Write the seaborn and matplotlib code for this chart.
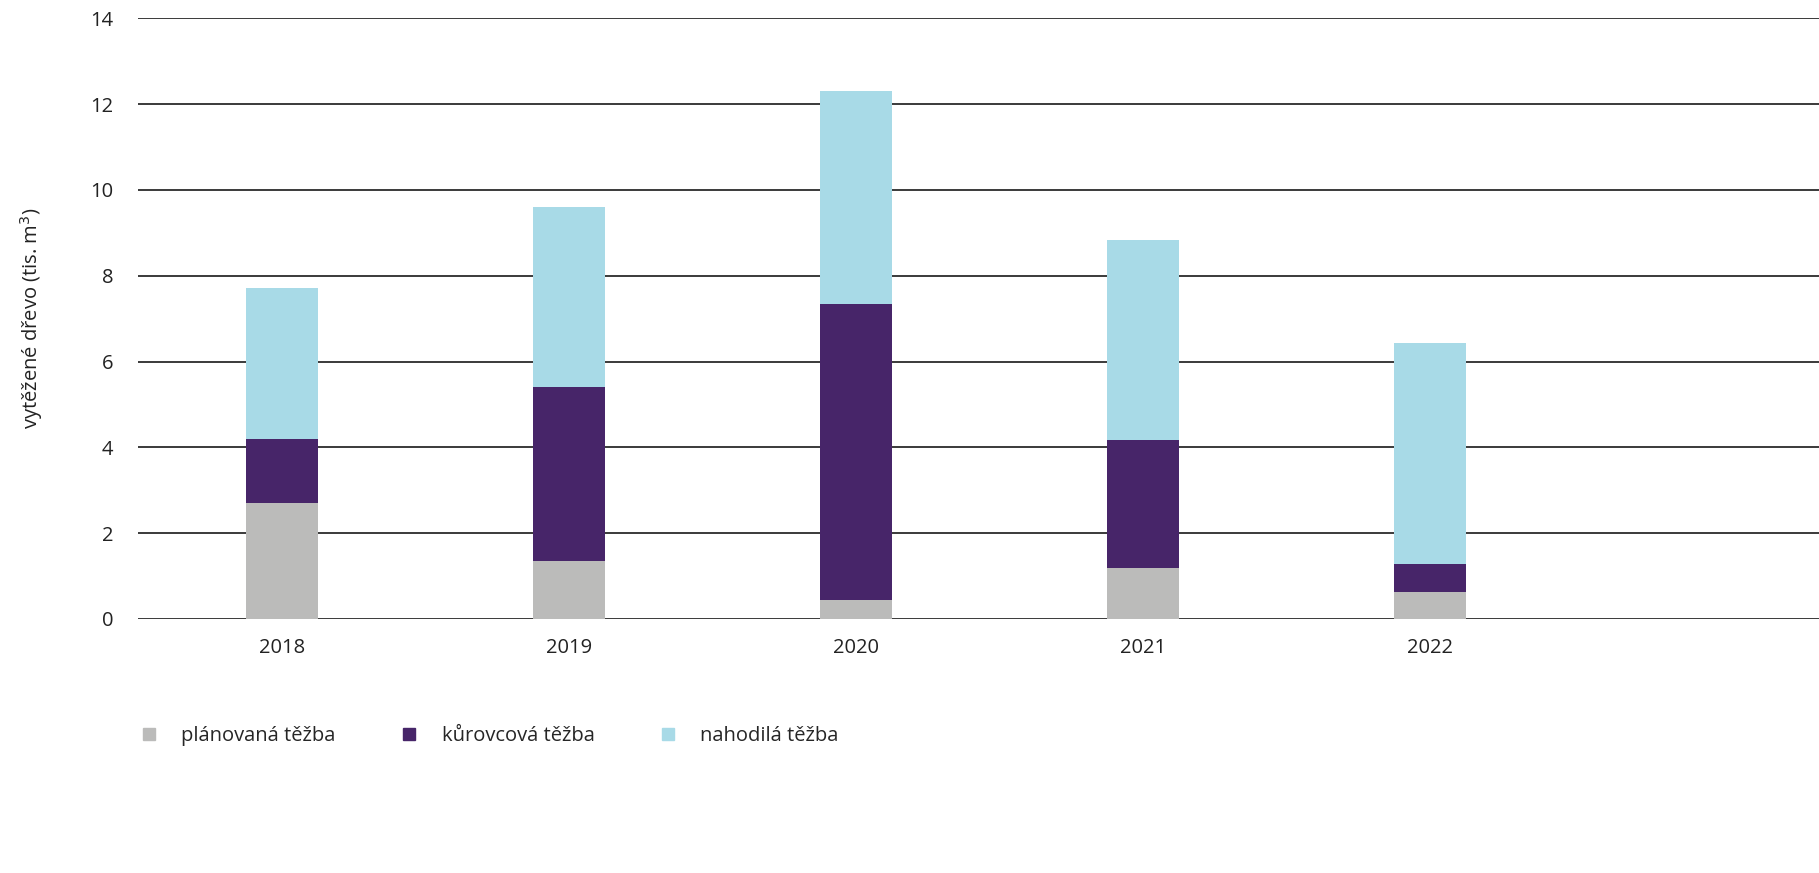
import numpy as np
import pandas as pd
import matplotlib
matplotlib.use("Agg")
import matplotlib.pyplot as plt
from matplotlib.lines import Line2D
import seaborn as sns

# data (tis. m3)
years     = ["2018", "2019", "2020", "2021", "2022"]
planovana = [2.70, 1.35, 0.44, 1.19, 0.63]
kurovcova = [1.49, 4.05, 6.91, 2.97, 0.65]
nahodila  = [3.53, 4.20, 4.95, 4.67, 5.15]

series_names = ["plánovaná těžba", "kůrovcová těžba", "nahodilá těžba"]
colors = ["#bbbbba", "#472569", "#a8dae7"]

sns.set_theme(style="white")
plt.rcParams['font.family'] = ['Open Sans', 'DejaVu Sans']

df = pd.DataFrame({"rok": years,
                   "p": planovana,
                   "k": kurovcova,
                   "n": nahodila})
df["c1"] = df["p"]
df["c2"] = df["p"] + df["k"]
df["c3"] = df["p"] + df["k"] + df["n"]

fig = plt.figure(figsize=(18.19, 8.73), dpi=100)
ax = fig.add_axes([0.0759, 0.291, 0.9241, 0.688])

# stacked look: draw cumulative totals from the tallest down
for col, c in zip(["c3", "c2", "c1"], colors[::-1]):
    sns.barplot(data=df, x="rok", y=col, color=c, width=0.25,
                saturation=1, ax=ax, zorder=3, linewidth=0)

FS = 14.5
ax.set_ylim(0, 14)
ax.set_yticks(range(0, 15, 2))
ax.set_xlim(-0.502, 5.355)
ax.yaxis.grid(True, color="#3a3a3a", linewidth=1.4, zorder=0)
ax.xaxis.grid(False)
for s in ax.spines.values():
    s.set_visible(False)
ax.tick_params(axis="both", length=0, labelsize=FS, colors="#222222")
ax.tick_params(axis="y", pad=18)
ax.tick_params(axis="x", pad=14)
ax.set_xlabel("")
ax.set_ylabel("vytěžené dřevo (tis. m$^3$)", fontsize=FS, color="#222222",
              labelpad=32)

handles = [Line2D([0], [0], marker="s", linestyle="", markersize=9,
                  markerfacecolor=c, markeredgecolor=c) for c in colors]
fig.legend(handles, series_names, loc="lower left",
           bbox_to_anchor=(0.061, 0.125), ncol=3, frameon=False,
           fontsize=FS, handletextpad=0.6, columnspacing=2.65)

fig.savefig("out.png", dpi=100)
